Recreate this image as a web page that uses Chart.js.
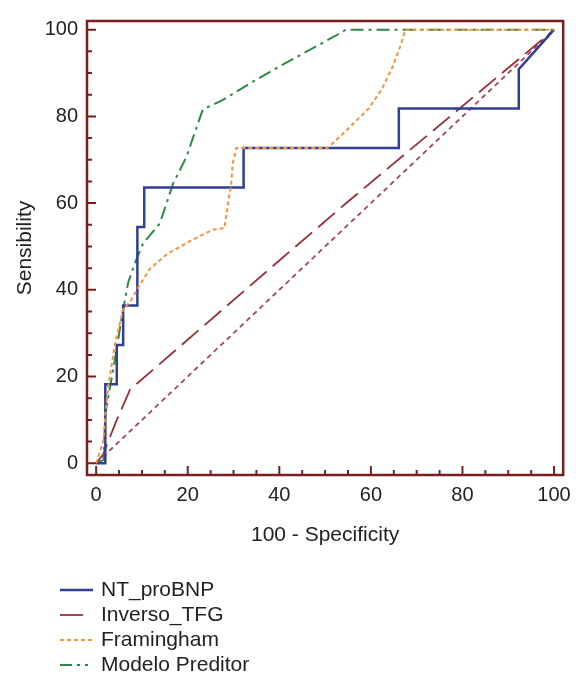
<!DOCTYPE html>
<html>
<head>
<meta charset="utf-8">
<script src="https://cdn.jsdelivr.net/npm/chart.js@4.4.1/dist/chart.umd.min.js"></script>
<style>
  html, body { margin: 0; padding: 0; background: #fff; }
</style>
</head>
<body>
<canvas id="chart" width="579" height="676"></canvas>
<script>
// Curvas ROC: pares [100 - especificidad, sensibilidad]
const ntProBNP = [[0,0],[2,0],[2,18.2],[4.5,18.2],[4.5,27.3],[5.9,27.3],[5.9,36.4],[9,36.4],[9,54.5],
  [10.5,54.5],[10.5,63.6],[32.2,63.6],[32.2,72.7],[66.1,72.7],[66.1,81.8],[92.3,81.8],[92.3,90.9],[100,100]];
const inversoTFG = [[0,0],[1.5,2],[4.3,9.5],[7.4,17],[40.7,47.4],[54.5,59.9],[100,100]];
const framingham = [[0,0],[1.6,5.3],[2,11.4],[2.7,18.2],[4.1,27.4],[5.9,35.6],[7.4,37.2],[9.2,40.6],
  [11.7,44.8],[15.4,48.2],[20.4,51.2],[25.5,53.9],[28,54.2],[28.8,59.9],[29.5,64.5],[29.8,69],[30.6,72.7],
  [50.5,72.7],[54.5,76.6],[59.6,81.9],[62.5,86.5],[64.6,91.1],[66.5,96.4],[67.5,100],[100,100]];
const modeloPreditor = [[0,0],[1.6,0.8],[2,11.4],[3,17.4],[3.8,22],[5.2,31.1],[5.9,35.6],[7,41.7],
  [8.5,46.3],[10.3,50.8],[13.9,55.3],[16.8,64.5],[19.7,70.6],[21.9,77.4],[23.3,81.6],[27.7,83.8],
  [34.2,88],[39.3,91.1],[52.3,98.6],[54.5,100],[100,100]];
const diagonal = [[0,0],[100,100]];

const seriesNames = ['NT_proBNP', 'Inverso_TFG', 'Framingham', 'Modelo Preditor'];
const xTickValues = [0, 20, 40, 60, 80, 100];
const yTickValues = [0, 20, 40, 60, 80, 100];

const axisColor = '#7a1f1f';
const textColor = '#222';
const fontFamily = "'Liberation Sans', Arial, sans-serif";

Chart.defaults.font.family = fontFamily;
Chart.defaults.font.size = 20;
Chart.defaults.color = textColor;

function toPoints(arr) {
  return arr.map(p => ({ x: p[0], y: p[1] }));
}

// Marco y marcas hacia dentro, como en la figura original
const framePlugin = {
  id: 'frame',
  afterDatasetsDraw(chart) {
    const { ctx, chartArea: a, scales: { x, y } } = chart;
    ctx.save();
    ctx.strokeStyle = axisColor;
    ctx.lineWidth = 2;
    for (let v = 0; v <= 100; v += 5) {
      const len = v % 20 === 0 ? 9 : 5;
      const py = y.getPixelForValue(v);
      const px = x.getPixelForValue(v);
      ctx.beginPath();
      ctx.moveTo(a.left, py); ctx.lineTo(a.left + len, py);
      ctx.moveTo(px, a.bottom); ctx.lineTo(px, a.bottom - len);
      ctx.stroke();
    }
    ctx.lineWidth = 2.5;
    ctx.strokeRect(a.left, a.top, a.right - a.left, a.bottom - a.top);
    ctx.restore();
  }
};

// Leyenda vertical debajo del gráfico
const legendPlugin = {
  id: 'vlegend',
  afterDraw(chart) {
    const { ctx } = chart;
    ctx.save();
    ctx.font = '21px ' + fontFamily;
    ctx.fillStyle = textColor;
    ctx.textBaseline = 'middle';
    chart.data.datasets.forEach((ds, i) => {
      if (ds.hideLegend) return;
      const yy = 590 + i * 25;
      ctx.strokeStyle = ds.borderColor;
      ctx.lineWidth = ds.borderWidth;
      ctx.setLineDash(ds.legendDash || ds.borderDash || []);
      ctx.beginPath();
      ctx.moveTo(60, yy); ctx.lineTo(93, yy);
      ctx.stroke();
      ctx.setLineDash([]);
      ctx.fillText(ds.label, 101, yy);
    });
    ctx.restore();
  }
};

const ctx = document.getElementById('chart').getContext('2d');

const chart = new Chart(ctx, {
  type: 'line',
  data: {
    datasets: [
      {
        label: seriesNames[0],
        data: toPoints(ntProBNP),
        borderColor: '#2f3f98',
        borderWidth: 2.5,
        order: 1,
      },
      {
        label: seriesNames[1],
        data: toPoints(inversoTFG),
        borderColor: '#9b2f35',
        borderWidth: 1.8,
        borderDash: [22, 8],
        legendDash: [23, 20],
        order: 2,
      },
      {
        label: seriesNames[2],
        data: toPoints(framingham),
        borderColor: '#f7923e',
        borderWidth: 2,
        borderDash: [4, 3],
        order: 0,
      },
      {
        label: seriesNames[3],
        data: toPoints(modeloPreditor),
        borderColor: '#2d8a43',
        borderWidth: 2,
        borderDash: [13, 5, 3, 5],
        legendDash: [12, 5, 3, 5, 3, 20],
        order: 2,
      },
      {
        label: 'diagonal',
        data: toPoints(diagonal),
        borderColor: '#a5475b',
        borderWidth: 1.8,
        borderDash: [5, 4],
        hideLegend: true,
        order: 3,
      }
    ]
  },
  options: {
    responsive: false,
    animation: false,
    devicePixelRatio: 1,
    layout: { padding: { top: 15, right: 14, bottom: 128, left: 0 } },
    elements: { point: { radius: 0 }, line: { tension: 0, fill: false } },
    scales: {
      x: {
        type: 'linear',
        min: -2,
        max: 102,
        afterBuildTicks: s => { s.ticks = xTickValues.map(v => ({ value: v })); },
        afterFit: s => { s.height = 73; },
        grid: { display: false, drawTicks: false },
        border: { display: false },
        ticks: { padding: 8, color: textColor },
        title: { display: true, text: '100 - Specificity', color: textColor, font: { size: 21 }, padding: { top: 0, bottom: 0 } }
      },
      y: {
        type: 'linear',
        min: -2.7,
        max: 102,
        afterBuildTicks: s => { s.ticks = yTickValues.map(v => ({ value: v })); },
        afterFit: s => { s.width = 87; },
        grid: { display: false, drawTicks: false },
        border: { display: false },
        ticks: { padding: 9, color: textColor },
        title: { display: true, text: 'Sensibility', color: textColor, font: { size: 21 }, padding: { top: 13, bottom: 0 } }
      }
    },
    plugins: {
      legend: { display: false },
      tooltip: { enabled: false }
    }
  },
  plugins: [framePlugin, legendPlugin]
});
</script>
</body>
</html>
